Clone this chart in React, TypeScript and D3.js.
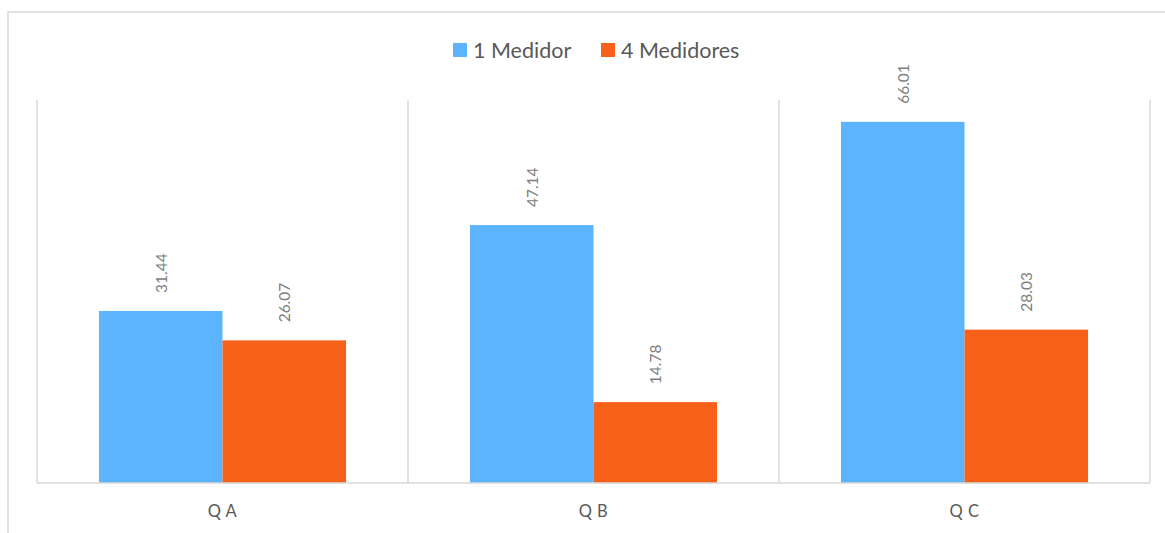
import React from "react";
import * as d3 from "d3";

const categories = ["Q A", "Q B", "Q C"];
const seriesNames = ["1 Medidor", "4 Medidores"];
const medidor1 = [31.44, 47.14, 66.01];
const medidor4 = [26.07, 14.78, 28.03];
const colors = ["#5DB4FE", "#F8611A"];

const W = 1165;
const H = 533;
const FONT = "Lato, 'Open Sans', sans-serif";

export default function App() {
  const plotLeft = 37;
  const plotRight = 1150;
  const plotTop = 100;
  const plotBottom = 483;

  const x = d3.scaleBand<string>().domain(categories).range([plotLeft, plotRight]).paddingInner(0).paddingOuter(0);
  const bw = x.bandwidth();
  const x1 = d3
    .scaleBand<string>()
    .domain(seriesNames)
    .range([bw * 0.167, bw * 0.833])
    .padding(0);
  const y = d3.scaleLinear().domain([0, 70]).range([plotBottom, plotTop]);

  const series = [medidor1, medidor4];
  const gridXs = [...categories.map((c) => x(c) as number), plotRight];

  return (
    <svg width={W} height={H} style={{ position: "absolute", left: 0, top: 0, background: "#fff" }}>
      <rect x={8} y={12} width={1300} height={700} fill="#fff" stroke="#d9d9d9" strokeWidth={1.5} />
      {gridXs.map((gx, i) => (
        <line key={i} x1={gx} x2={gx} y1={plotTop} y2={plotBottom} stroke="#d9d9d9" strokeWidth={1.5} />
      ))}
      {categories.map((c, ci) => (
        <g key={c} transform={`translate(${x(c)},0)`}>
          {seriesNames.map((s, si) => {
            const v = series[si][ci];
            const bx = x1(s) as number;
            const by = y(v);
            const cx = bx + x1.bandwidth() / 2;
            return (
              <g key={s}>
                <rect x={bx} y={by} width={x1.bandwidth()} height={plotBottom - by} fill={colors[si]} />
                <text
                  transform={`translate(${cx},${by - 18}) rotate(-90)`}
                  textAnchor="start"
                  dominantBaseline="central"
                  fontFamily={FONT}
                  fontSize={15.5}
                  fill="#7f7f7f"
                >
                  {v.toFixed(2)}
                </text>
              </g>
            );
          })}
          <text
            x={bw / 2}
            y={511}
            textAnchor="middle"
            dominantBaseline="central"
            fontFamily={FONT}
            fontSize={16.5}
            letterSpacing={0.5}
            fill="#595959"
          >
            {c}
          </text>
        </g>
      ))}
      <line x1={plotLeft} x2={plotRight} y1={plotBottom} y2={plotBottom} stroke="#d9d9d9" strokeWidth={1.5} />
      {seriesNames.map((s, i) => {
        const lx = [453, 601][i];
        return (
          <g key={s}>
            <rect x={lx} y={43} width={14} height={14} fill={colors[i]} />
            <text x={lx + 20} y={50} dominantBaseline="central" fontFamily={FONT} fontSize={21.5} fill="#595959">
              {s}
            </text>
          </g>
        );
      })}
    </svg>
  );
}
